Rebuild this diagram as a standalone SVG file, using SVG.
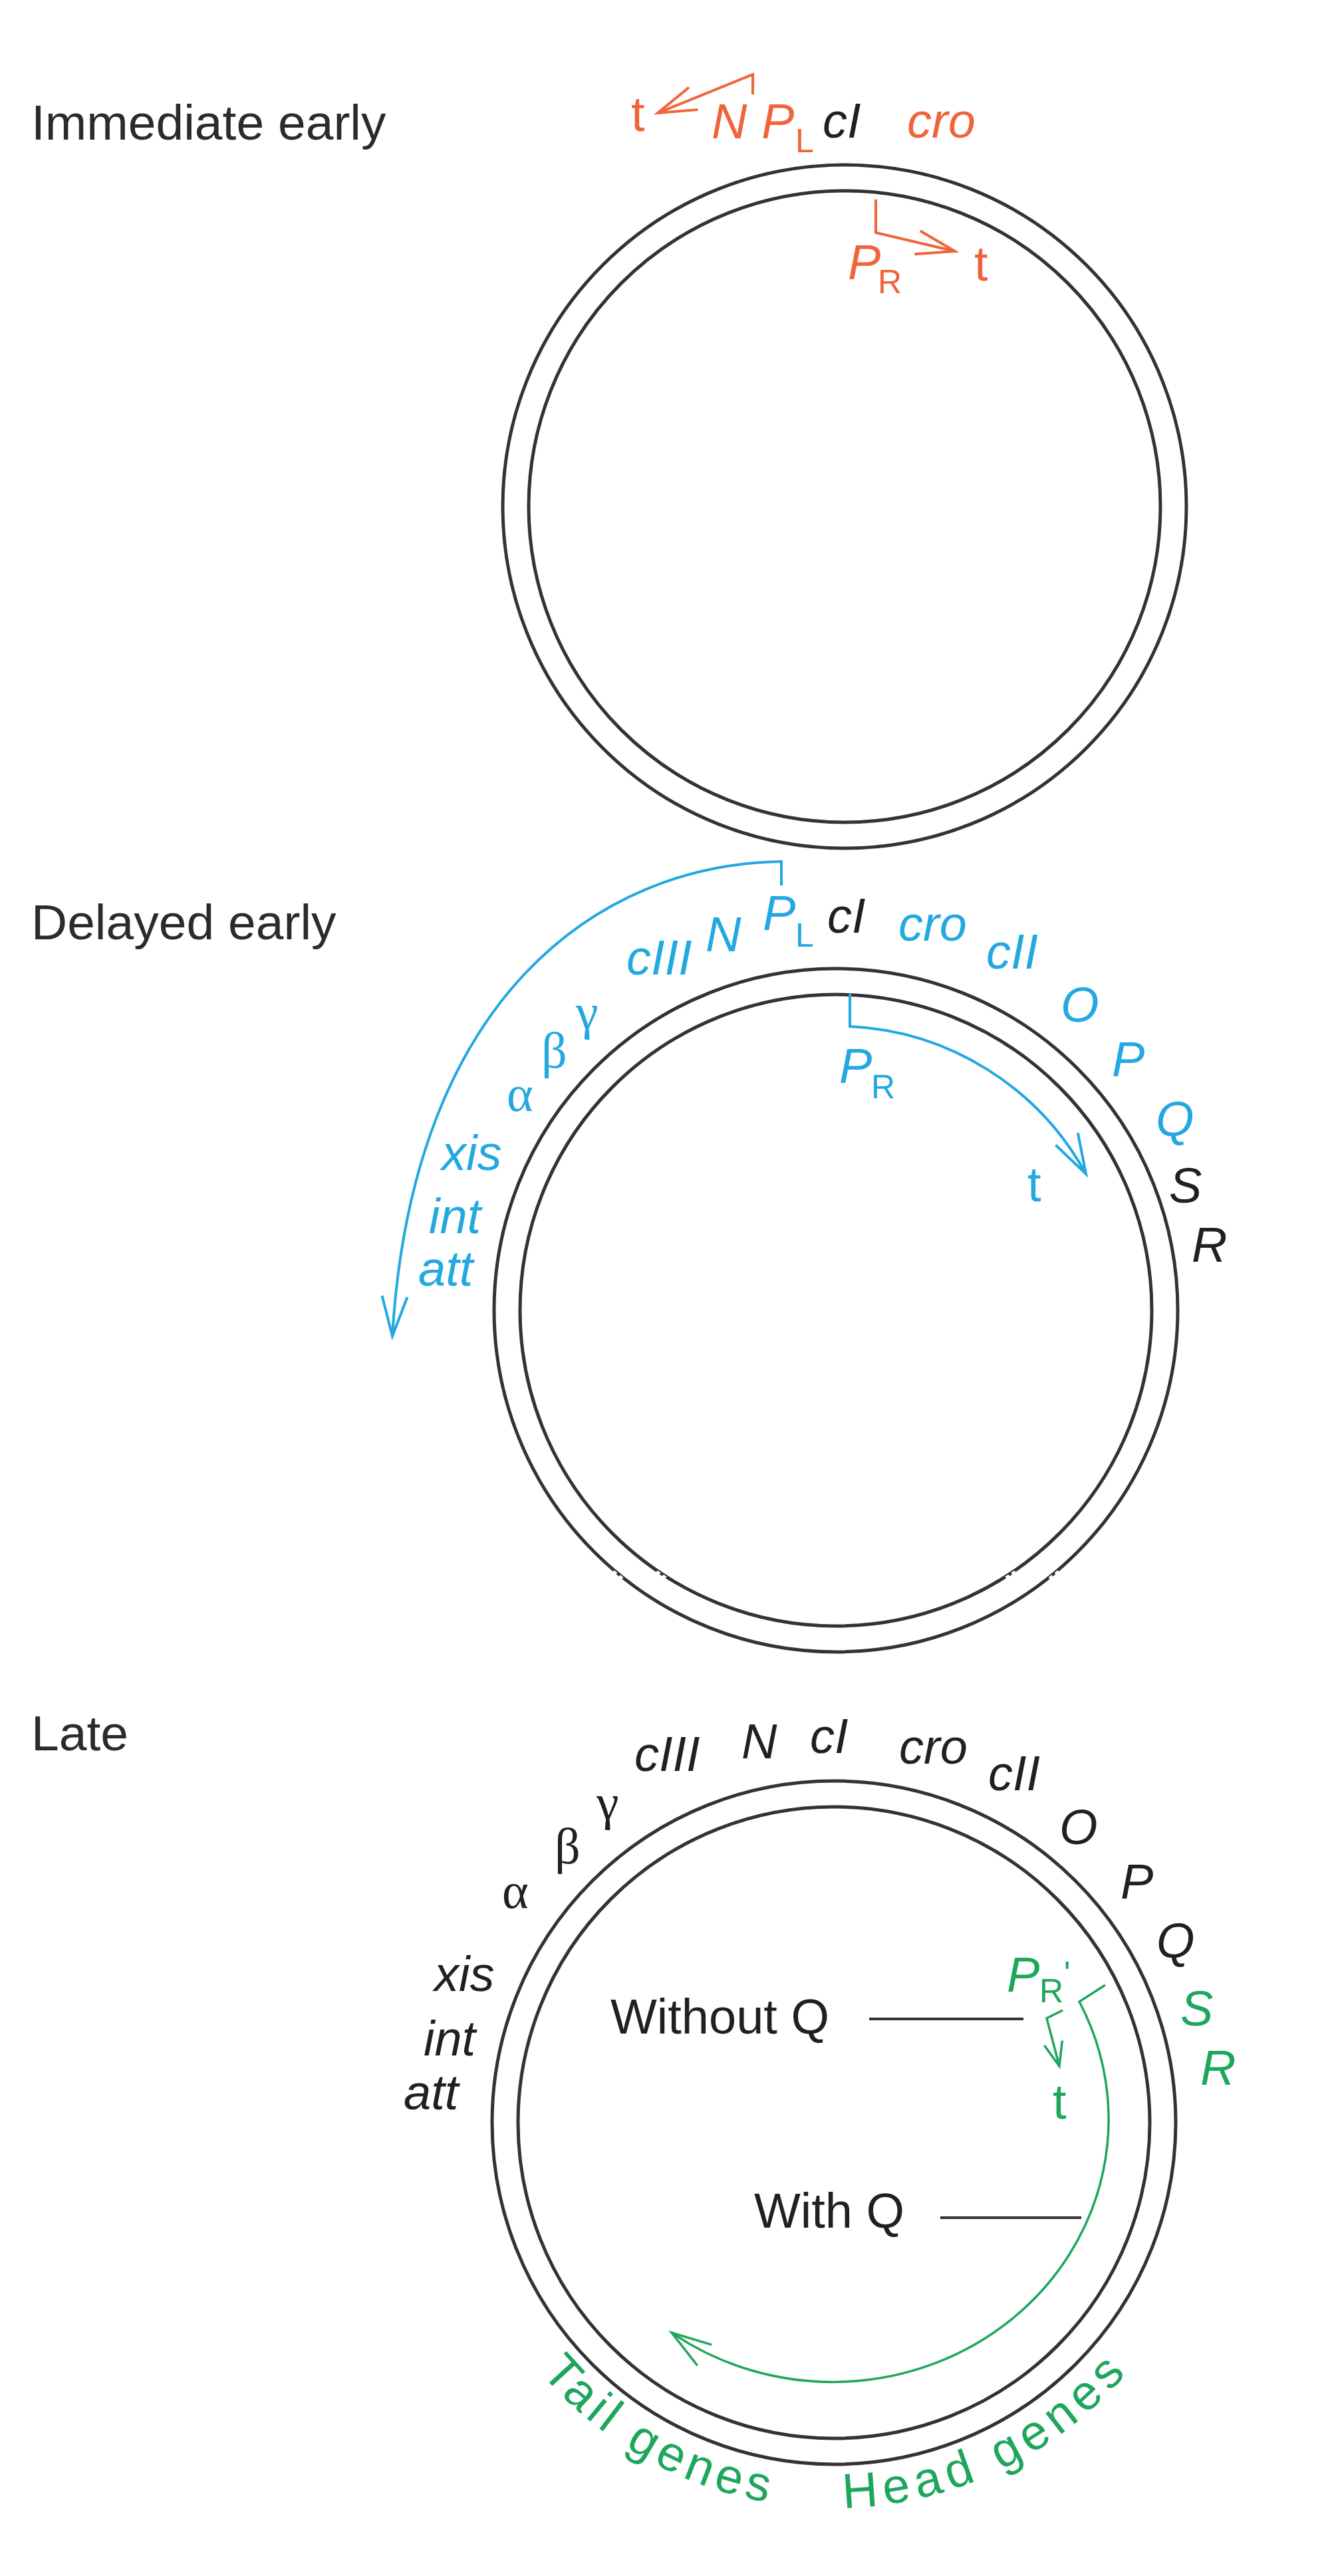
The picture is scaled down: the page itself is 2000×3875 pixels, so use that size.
<svg xmlns="http://www.w3.org/2000/svg" xmlns:xlink="http://www.w3.org/1999/xlink" width="2000" height="3875" viewBox="0 0 2000 3875">
<style>
text{font-family:"Liberation Sans",Arial,sans-serif;font-size:74px;fill:#231f20}
.title{font-size:75px;fill:#2b2b2b}
.g{font-style:italic}
.sub{font-size:50px;font-style:normal}
.gr{font-family:"Liberation Serif","Times New Roman",serif;font-size:76px;font-style:normal}
.or{fill:#f0643a}
.bl{fill:#23a8e0}
.gn{fill:#1ea65c}
.ring{fill:none;stroke:#333;stroke-width:5}
.gap{stroke:#fff;stroke-width:6}
.lo{fill:none;stroke:#f0643a;stroke-width:4}
.lb{fill:none;stroke:#23a8e0;stroke-width:4}
.lg{fill:none;stroke:#1ea65c;stroke-width:3.5}
.lk{fill:none;stroke:#333;stroke-width:4}
</style>
<defs>
<marker id="ao" markerUnits="userSpaceOnUse" markerWidth="70" markerHeight="50" viewBox="-64 -25 70 50" refX="0" refY="0" orient="auto"><path d="M-58,-18 L0,0 L-58,18" fill="none" stroke="#f0643a" stroke-width="4"/></marker>
<marker id="ab" markerUnits="userSpaceOnUse" markerWidth="70" markerHeight="50" viewBox="-64 -25 70 50" refX="0" refY="0" orient="auto"><path d="M-60,-19 L0,0 L-60,19" fill="none" stroke="#23a8e0" stroke-width="4"/></marker>
<marker id="ag" markerUnits="userSpaceOnUse" markerWidth="70" markerHeight="50" viewBox="-64 -25 70 50" refX="0" refY="0" orient="auto"><path d="M-60,-19 L0,0 L-60,19" fill="none" stroke="#1ea65c" stroke-width="3.5"/></marker>
<marker id="ags" markerUnits="userSpaceOnUse" markerWidth="50" markerHeight="40" viewBox="-44 -20 50 40" refX="0" refY="0" orient="auto"><path d="M-36,-14 L0,0 L-36,14" fill="none" stroke="#1ea65c" stroke-width="3.5"/></marker>
<path id="tp" d="M674,3193 A580,580 0 0 0 1834,3193"/>
</defs>

<!-- Section 1: Immediate early -->
<g id="sec1">
<text class="title" x="47" y="210">Immediate early</text>
<g id="circle1"><circle class="ring" cx="1270" cy="762" r="514"/><circle class="ring" cx="1270" cy="762" r="475"/></g>
<g id="labels1">
<text class="or" x="949" y="197">t</text>
<text class="g or" x="1070" y="208">N</text>
<text class="g or" x="1145" y="208">P<tspan class="sub" x="1196" y="229">L</tspan></text>
<text class="g" x="1237" y="207">cI</text>
<text class="g or" x="1364" y="207">cro</text>
<text class="g or" x="1275" y="420">P<tspan class="sub" x="1320" y="441">R</tspan></text>
<text class="or" x="1465" y="422">t</text>
</g>
</g>

<!-- Section 2: Delayed early -->
<g id="sec2">
<text class="title" x="47" y="1413">Delayed early</text>
<g id="circle2"><circle class="ring" cx="1257" cy="1971" r="514"/><circle class="ring" cx="1257" cy="1971" r="475"/>
<path class="gap" d="M926,2364 l-10,12 M935,2371 l-10,12 M991,2364 l-8,13 M1000,2370 l-8,13 M1588,2364 l10,12 M1579,2371 l10,12 M1523,2364 l8,13 M1514,2370 l8,13"/>
</g>
<g id="labels2">
<text class="g bl" x="942" y="1466">cIII</text>
<text class="g bl" x="1061" y="1431">N</text>
<text class="g bl" x="1147" y="1399">P<tspan class="sub" x="1196" y="1424">L</tspan></text>
<text class="g" x="1244" y="1403">cI</text>
<text class="g bl" x="1351" y="1415">cro</text>
<text class="g bl" x="1483" y="1457">cII</text>
<text class="g bl" x="1595" y="1537">O</text>
<text class="g bl" x="1672" y="1619">P</text>
<text class="g bl" x="1738" y="1709">Q</text>
<text class="g" x="1758" y="1809">S</text>
<text class="g" x="1792" y="1898">R</text>
<text class="gr bl" x="866" y="1548">γ</text>
<text class="gr bl" x="814" y="1606">β</text>
<text class="gr bl" x="762" y="1671">α</text>
<text class="g bl" x="664" y="1760">xis</text>
<text class="g bl" x="645" y="1855">int</text>
<text class="g bl" x="629" y="1934">att</text>
<text class="g bl" x="1262" y="1629">P<tspan class="sub" x="1310" y="1652">R</tspan></text>
<text class="bl" x="1545" y="1807">t</text>
</g>
</g>

<!-- Section 3: Late -->
<g id="sec3">
<text class="title" x="47" y="2633">Late</text>
<g id="circle3"><circle class="ring" cx="1254" cy="3193" r="514"/><circle class="ring" cx="1254" cy="3193" r="475"/></g>
<g id="labels3">
<text class="g" x="954" y="2664">cIII</text>
<text class="g" x="1115" y="2645">N</text>
<text class="g" x="1218" y="2637">cI</text>
<text class="g" x="1352" y="2653">cro</text>
<text class="g" x="1486" y="2693">cII</text>
<text class="g" x="1593" y="2774">O</text>
<text class="g" x="1685" y="2856">P</text>
<text class="g" x="1739" y="2945">Q</text>
<text class="g gn" x="1775" y="3047">S</text>
<text class="g gn" x="1805" y="3136">R</text>
<text class="gr" x="897" y="2737">γ</text>
<text class="gr" x="834" y="2803">β</text>
<text class="gr" x="755" y="2870">α</text>
<text class="g" x="653" y="2995">xis</text>
<text class="g" x="637" y="3092">int</text>
<text class="g" x="607" y="3173">att</text>
<text class="g gn" x="1514" y="2996">P<tspan class="sub" x="1563" y="3012">R</tspan><tspan class="sub" x="1600" y="2986">'</tspan></text>
<text class="gn" x="1583" y="3187">t</text>
<text x="918" y="3059">Without Q</text>
<text x="1134" y="3351">With Q</text>
<text class="gn" font-size="72"><textPath xlink:href="#tp" startOffset="410" textLength="400" lengthAdjust="spacing">Tail genes</textPath></text>
<text class="gn" font-size="72"><textPath xlink:href="#tp" startOffset="925" textLength="485" lengthAdjust="spacing">Head genes</textPath></text>
</g>
</g>

<!-- Connectors -->
<g id="connectors">
<path class="lo" d="M1132,142 V112 L989,170" marker-end="url(#ao)"/>
<path class="lo" d="M1317,300 V350 L1436,378" marker-end="url(#ao)"/>
<path class="lb" d="M1175,1332 V1296 C900,1300 620,1500 590,2010" marker-end="url(#ab)"/>
<path class="lb" d="M1278,1495 V1544 A428,428 0 0 1 1633,1766" marker-end="url(#ab)"/>
<path class="lg" d="M1662,2986 L1623,3011 A415,395 0 0 1 1010,3509" marker-end="url(#ag)"/>
<path class="lg" d="M1598,3024 L1574,3036 L1593,3108" marker-end="url(#ags)"/>
<path class="lk" d="M1307,3037 H1539"/>
<path class="lk" d="M1414,3336 H1626"/>
</g>
</svg>
